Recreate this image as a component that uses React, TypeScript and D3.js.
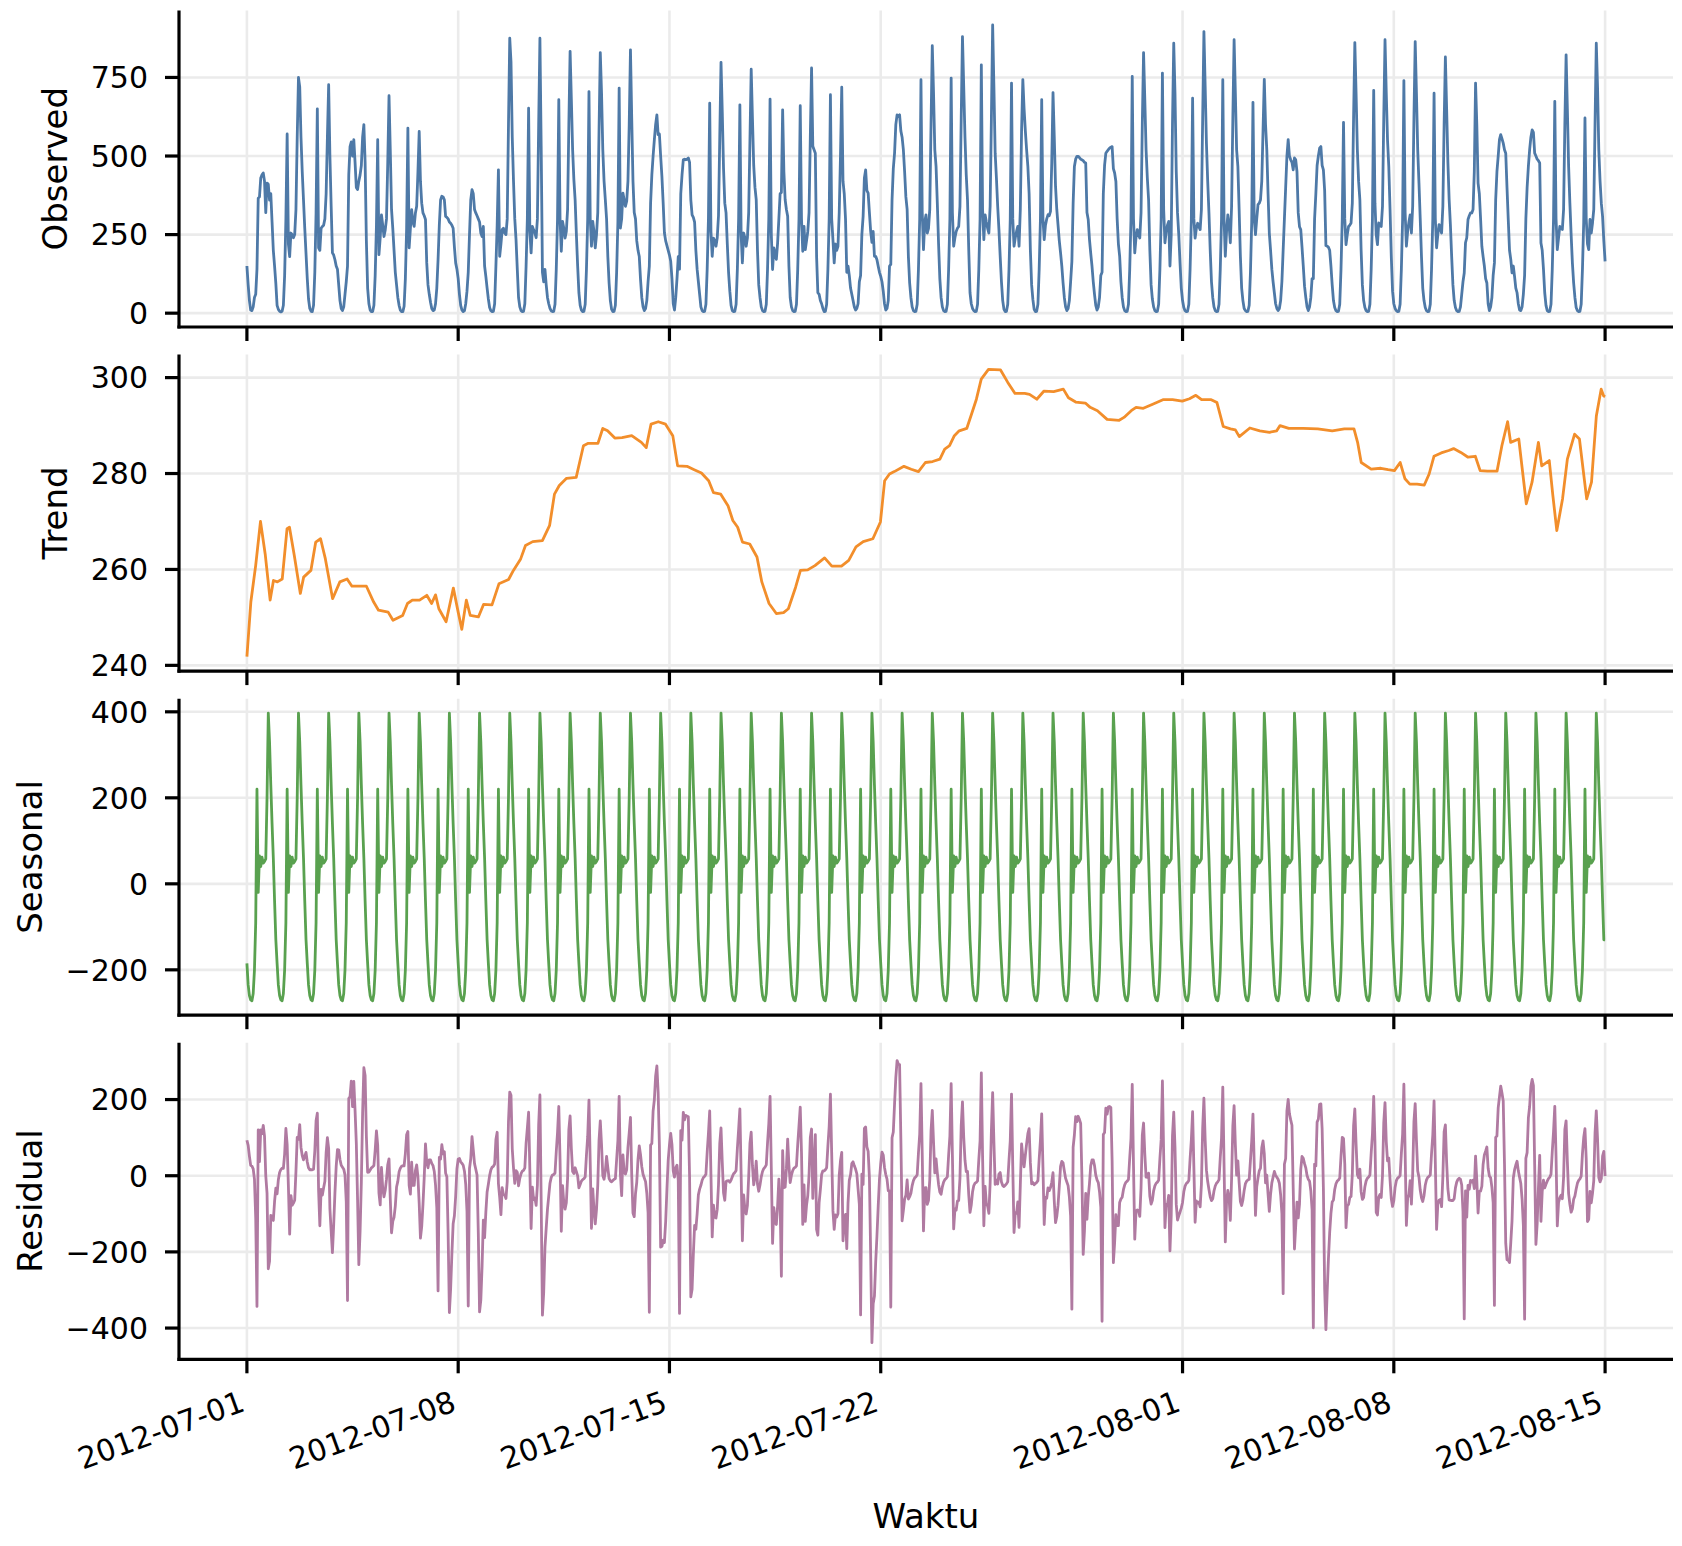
import React from 'react';
import * as d3 from 'd3';

// ---------------- data ----------------
const startUTC = Date.UTC(2012, 6, 1); // 2012-07-01 00:00, hourly samples
const tickLabels = ['2012-07-01', '2012-07-08', '2012-07-15', '2012-07-22', '2012-08-01', '2012-08-08', '2012-08-15'];

// observed hourly counts, one row per day (hour 0..23)
const observedByDay: number[][] = [
  [150, 90, 40, 10, 8, 20, 50, 60, 140, 366, 370, 430, 440, 446, 420, 320, 414, 410, 360, 380, 290, 200, 150, 95], // 07-01
  [25, 12, 6, 4, 6, 25, 120, 300, 570, 220, 180, 255, 250, 240, 250, 330, 560, 750, 720, 560, 450, 360, 270, 190], // 07-02
  [110, 45, 15, 6, 5, 25, 130, 320, 650, 208, 200, 270, 276, 280, 300, 380, 560, 727, 500, 340, 192, 185, 170, 150],
  [140, 90, 40, 15, 8, 20, 60, 100, 150, 440, 530, 545, 500, 552, 480, 400, 393, 420, 440, 470, 560, 600, 480, 230], // 07-04
  [80, 30, 10, 5, 5, 25, 120, 280, 552, 186, 240, 313, 280, 244, 265, 300, 480, 692, 520, 330, 270, 200, 130, 90],
  [50, 25, 10, 5, 5, 22, 110, 270, 589, 208, 270, 329, 290, 276, 319, 340, 450, 578, 420, 350, 319, 310, 298, 160],
  [90, 60, 35, 15, 8, 10, 30, 80, 170, 280, 360, 372, 370, 361, 308, 305, 300, 290, 286, 280, 270, 210, 160, 140],
  [110, 60, 25, 10, 5, 8, 30, 70, 130, 250, 360, 393, 380, 330, 319, 310, 300, 290, 255, 244, 276, 150, 117, 80], // 07-08
  [45, 18, 8, 5, 6, 30, 150, 280, 456, 181, 220, 266, 270, 255, 250, 300, 600, 875, 800, 560, 420, 300, 234, 140],
  [50, 20, 8, 5, 6, 30, 150, 300, 652, 260, 192, 276, 265, 255, 240, 300, 600, 875, 530, 130, 100, 139, 90, 50],
  [30, 15, 7, 5, 6, 28, 140, 300, 679, 300, 197, 292, 270, 239, 260, 330, 600, 833, 680, 520, 425, 360, 250, 150],
  [65, 25, 10, 5, 6, 28, 140, 300, 705, 300, 213, 292, 260, 208, 250, 320, 580, 829, 700, 520, 420, 361, 300, 180],
  [96, 40, 12, 5, 6, 25, 130, 290, 716, 271, 300, 382, 360, 340, 356, 420, 600, 838, 620, 420, 320, 300, 230, 200],
  [180, 107, 50, 20, 8, 15, 40, 100, 150, 350, 440, 500, 552, 600, 631, 568, 570, 500, 435, 351, 255, 230, 215, 200],
  [185, 165, 110, 30, 10, 50, 110, 180, 140, 380, 440, 488, 490, 488, 490, 494, 480, 360, 313, 305, 290, 200, 140, 100], // 07-15
  [60, 20, 8, 5, 6, 28, 140, 300, 668, 260, 181, 239, 230, 213, 240, 310, 560, 798, 640, 460, 350, 319, 220, 130],
  [70, 25, 8, 5, 6, 28, 140, 300, 663, 250, 160, 255, 240, 213, 240, 320, 550, 776, 620, 470, 400, 361, 200, 90],
  [50, 20, 8, 5, 6, 28, 140, 300, 681, 250, 139, 208, 190, 171, 223, 300, 380, 384, 647, 450, 361, 330, 308, 150],
  [50, 20, 8, 5, 6, 28, 140, 300, 660, 300, 197, 276, 202, 230, 260, 320, 560, 780, 531, 520, 509, 180, 65, 60],
  [40, 30, 15, 5, 6, 28, 140, 300, 695, 300, 234, 160, 220, 200, 213, 320, 500, 719, 420, 380, 300, 130, 150, 120],
  [80, 60, 40, 20, 10, 15, 30, 100, 120, 250, 308, 430, 456, 390, 382, 320, 260, 225, 260, 181, 181, 170, 149, 130],
  [117, 100, 70, 30, 10, 15, 40, 150, 155, 360, 460, 509, 600, 631, 626, 631, 580, 560, 520, 450, 370, 330, 180, 96], // 07-22
  [50, 20, 8, 5, 6, 28, 140, 300, 743, 320, 202, 290, 313, 255, 270, 330, 600, 851, 700, 520, 467, 350, 220, 110],
  [50, 20, 8, 5, 6, 28, 140, 300, 748, 320, 213, 240, 260, 270, 276, 340, 620, 880, 720, 560, 440, 361, 200, 65],
  [30, 15, 8, 5, 6, 28, 140, 300, 790, 330, 234, 313, 290, 270, 255, 340, 620, 917, 720, 509, 430, 340, 266, 180],
  [100, 40, 12, 5, 6, 28, 140, 300, 732, 300, 213, 240, 260, 276, 213, 330, 580, 743, 650, 580, 520, 467, 380, 200],
  [90, 43, 12, 5, 6, 28, 140, 300, 679, 300, 234, 280, 300, 313, 310, 324, 480, 702, 560, 404, 330, 280, 230, 192],
  [150, 96, 50, 20, 8, 15, 40, 100, 165, 350, 467, 490, 499, 499, 495, 490, 488, 485, 480, 478, 320, 298, 234, 190],
  [150, 100, 60, 25, 10, 20, 50, 120, 130, 380, 470, 509, 515, 520, 525, 528, 530, 460, 446, 419, 300, 220, 181, 100],
  [50, 20, 8, 5, 6, 28, 140, 300, 753, 300, 192, 240, 266, 250, 239, 320, 600, 829, 680, 520, 430, 361, 200, 90],
  [45, 20, 8, 5, 6, 28, 140, 300, 764, 330, 224, 260, 280, 292, 150, 250, 600, 859, 700, 450, 319, 250, 160, 80],
  [40, 18, 8, 5, 6, 28, 140, 300, 684, 300, 239, 270, 286, 275, 266, 330, 620, 896, 720, 540, 420, 319, 200, 100], // 08-01
  [50, 20, 8, 5, 6, 28, 140, 300, 743, 300, 181, 260, 313, 280, 224, 340, 620, 870, 700, 520, 467, 330, 180, 80],
  [40, 15, 8, 5, 6, 25, 130, 290, 671, 300, 250, 300, 345, 350, 361, 420, 580, 744, 600, 520, 380, 255, 200, 140],
  [100, 65, 30, 15, 8, 15, 40, 100, 200, 300, 400, 500, 552, 500, 488, 480, 456, 494, 488, 450, 319, 275, 266, 210],
  [150, 86, 50, 20, 8, 20, 50, 110, 110, 300, 380, 470, 500, 525, 530, 470, 456, 390, 215, 213, 210, 200, 150, 90],
  [40, 18, 8, 5, 6, 28, 140, 300, 607, 300, 218, 250, 276, 280, 287, 350, 620, 861, 700, 520, 420, 361, 200, 90],
  [40, 18, 8, 5, 6, 28, 140, 300, 709, 350, 250, 218, 287, 280, 276, 340, 620, 870, 700, 550, 467, 330, 180, 70],
  [30, 15, 8, 5, 6, 28, 140, 300, 740, 320, 213, 260, 290, 313, 255, 340, 620, 864, 700, 520, 414, 300, 180, 80], // 08-08
  [40, 18, 8, 5, 6, 28, 140, 300, 700, 300, 208, 250, 282, 270, 255, 340, 600, 815, 650, 480, 361, 280, 180, 90],
  [40, 18, 8, 5, 6, 20, 60, 100, 128, 224, 240, 298, 310, 319, 319, 330, 450, 732, 600, 414, 380, 300, 213, 180],
  [150, 110, 96, 30, 8, 20, 50, 120, 160, 361, 450, 500, 552, 568, 555, 541, 520, 509, 400, 298, 200, 171, 128, 150],
  [117, 80, 65, 30, 10, 8, 20, 60, 120, 300, 400, 467, 520, 560, 583, 575, 509, 500, 490, 485, 478, 223, 200, 140],
  [65, 25, 8, 5, 6, 28, 140, 300, 674, 300, 202, 240, 276, 270, 266, 330, 600, 822, 650, 467, 350, 250, 160, 96],
  [50, 18, 8, 5, 6, 28, 140, 290, 621, 300, 220, 202, 298, 255, 287, 330, 600, 859, 720, 520, 420, 350, 308, 230], // 08-14
];
const observedLast = 165; // 2012-08-15 00:00

// seasonal component: one daily profile (hour 0..23), repeated every day
const seasonalProfile = [-185, -235, -260, -270, -272, -255, -200, -90, 220, -20, 65, 40, 62, 48, 52, 58, 200, 397, 330, 230, 140, 60, -40, -130];
const seasonalLast = -130; // value drawn at 2012-08-15 00:00

// trend component: sampled points (day offset from 2012-07-01, value)
const trendDays = [
  0, 0.13, 0.29, 0.45, 0.61, 0.77, 0.88, 1.01, 1.17, 1.33, 1.41, 1.57, 1.77, 1.88, 2.12, 2.28, 2.44, 2.6, 2.84, 3.08,
  3.32, 3.48, 3.96, 4.2, 4.36, 4.68, 4.84, 5.16, 5.32, 5.48, 5.72, 5.96, 6.12, 6.25, 6.36, 6.6, 6.84, 7.0, 7.12, 7.27,
  7.4, 7.67, 7.84, 8.12, 8.35, 8.67, 8.83, 9.07, 9.23, 9.47, 9.79, 10.03, 10.19, 10.35, 10.59, 10.91, 11.15, 11.31, 11.63, 11.79,
  11.95, 12.19, 12.43, 12.75, 13.07, 13.23, 13.39, 13.63, 13.87, 14.11, 14.27, 14.58, 14.82, 15.06, 15.3, 15.46, 15.7, 15.94, 16.1, 16.26,
  16.42, 16.66, 16.9, 17.06, 17.3, 17.54, 17.78, 17.94, 18.18, 18.34, 18.58, 18.82, 19.14, 19.38, 19.7, 19.94, 20.18, 20.42, 20.74, 20.99,
  21.13, 21.29, 21.45, 21.77, 22.01, 22.25, 22.48, 22.72, 22.96, 23.12, 23.28, 23.44, 23.6, 23.85, 24.01, 24.17, 24.33, 24.57, 24.97, 25.21,
  25.45, 25.77, 25.93, 26.17, 26.41, 26.73, 27.05, 27.22, 27.46, 27.78, 27.94, 28.18, 28.5, 28.9, 29.06, 29.3, 29.46, 29.7, 30.03, 30.35,
  30.67, 30.99, 31.23, 31.44, 31.63, 31.95, 32.14, 32.35, 32.59, 32.75, 32.88, 33.23, 33.56, 33.88, 34.12, 34.23, 34.52, 35.0, 35.48, 35.96,
  36.36, 36.68, 36.8, 36.92, 37.25, 37.57, 37.81, 38.02, 38.21, 38.37, 38.53, 38.77, 39.01, 39.17, 39.33, 39.57, 39.82, 39.98, 40.22, 40.46,
  40.7, 40.86, 41.1, 41.42, 41.58, 41.77, 41.87, 42.14, 42.39, 42.58, 42.79, 42.9, 43.15, 43.27, 43.4, 43.59, 43.75, 43.99, 44.15, 44.39,
  44.55, 44.71, 44.87, 44.95, 45.0,
];
const trendValues = [
  241.8, 253.2, 260.8, 270, 263, 253.6, 257.7, 257.4, 258, 268.5, 268.8, 262.9, 255, 258.4, 259.8, 265.7, 266.4, 262.2, 253.9, 257.4,
  258, 256.5, 256.5, 253.2, 251.5, 251.1, 249.4, 250.4, 252.9, 253.6, 253.6, 254.6, 252.9, 254.7, 251.8, 249.1, 256.1, 251.1, 247.5, 253.6,
  250.4, 250.1, 252.7, 252.6, 257, 257.9, 259.8, 262.2, 265, 265.8, 266, 269.2, 275.7, 277.5, 279, 279.2, 285.8, 286.3, 286.3, 289.4,
  288.9, 287.4, 287.5, 287.9, 286.5, 285.4, 290.3, 290.8, 290.3, 287.9, 281.6, 281.5, 280.8, 280.1, 278.5, 276, 275.7, 273.3, 270.2, 268.8,
  265.7, 265.3, 262.6, 257.4, 252.9, 250.8, 251, 251.8, 256.3, 259.8, 259.9, 260.8, 262.4, 260.7, 260.7, 261.9, 264.7, 265.8, 266.4, 269.9,
  278.5, 279.9, 280.4, 281.5, 280.9, 280.4, 282.3, 282.5, 283, 285.1, 285.8, 287.9, 288.9, 289.4, 292.4, 295.5, 299.7, 301.7, 301.6, 299,
  296.7, 296.7, 296.5, 295.5, 297.2, 297.1, 297.6, 295.8, 294.9, 294.7, 293.8, 293.1, 291.3, 291.1, 291.7, 293.1, 293.8, 293.6, 294.5, 295.4,
  295.4, 295.1, 295.6, 296.3, 295.4, 295.4, 294.8, 289.8, 289.3, 289.1, 287.7, 289.5, 288.9, 288.6, 288.9, 290, 289.4, 289.4, 289.3, 288.9,
  289.3, 289.3, 286.5, 282.3, 280.9, 281.1, 280.8, 280.6, 282.3, 278.9, 277.8, 277.8, 277.6, 279.9, 283.6, 284.3, 284.8, 285.2, 284.4, 283.4,
  283.6, 280.6, 280.5, 280.5, 285.8, 290.8, 286.5, 287.2, 273.7, 278.2, 286.5, 281.6, 282.7, 275.4, 268.1, 274.7, 283, 288.2, 287.2, 274.7,
  278.2, 292, 297.6, 296.2, 296,
];

const observedTicks = [0, 250, 500, 750];
const trendTicks = [240, 260, 280, 300];
const seasonalTicks = [-200, 0, 200, 400];
const residualTicks = [-400, -200, 0, 200];

const panelLabels = ['Observed', 'Trend', 'Seasonal', 'Residual'];
const xAxisLabel = 'Waktu';

// ---------------- layout / style ----------------
const W = 1682;
const H = 1546;
const LEFT = 179;
const RIGHT = 1673;
const PANEL_TOPS = [10.5, 354.6, 698.7, 1042.8];
const PANEL_H = 316.5;
const Y_DOMAINS: [number, number][] = [[-44, 963], [238.8, 304.8], [-305.5, 430.5], [-482, 349]];
const COLORS = ['#4e79a7', '#f28e2b', '#59a14f', '#b07aa1'];
const FONT = "'DejaVu Sans', sans-serif";
const TICK_FS = 30;
const LABEL_FS = 34;
const TICK_LEN = 14;
const HOUR = 3600000;

const fmt = (n: number) => (n < 0 ? '\u2212' + Math.abs(n) : String(n));
const textWidth = (s: string, fs: number) =>
  s.split('').reduce((a, c) => a + (c === '\u2212' ? 0.838 : 0.636), 0) * fs;

type Pt = { t: Date; v: number };

export default function App() {
  const nHours = observedByDay.length * 24;
  const observed: number[] = observedByDay.flat().concat([observedLast]);
  const seasonal: number[] = observedByDay
    .flat()
    .map((_, i) => seasonalProfile[i % 24])
    .concat([seasonalLast]);
  const tEnd = startUTC + nHours * HOUR;
  const pad = nHours * 0.05 * HOUR;
  const x = d3.scaleUtc().domain([new Date(startUTC - pad), new Date(tEnd + pad)]).range([LEFT, RIGHT]);

  const timeAt = (i: number) => new Date(startUTC + i * HOUR);
  const obsPts: Pt[] = observed.map((v, i) => ({ t: timeAt(i), v }));
  const seasPts: Pt[] = seasonal.map((v, i) => ({ t: timeAt(i), v }));
  const trendPts: Pt[] = trendDays.map((d, i) => ({ t: new Date(startUTC + d * 24 * HOUR), v: trendValues[i] }));

  // residual = observed - trend - seasonal (the decomposition identity)
  const trendAt = (day: number) => {
    const j = Math.max(1, d3.bisectLeft(trendDays, day));
    const k = Math.min(j, trendDays.length - 1);
    const d0 = trendDays[j - 1], d1 = trendDays[k];
    const v0 = trendValues[j - 1], v1 = trendValues[k];
    if (d1 === d0) return v0;
    return v0 + ((v1 - v0) * (day - d0)) / (d1 - d0);
  };
  const residPts: Pt[] = observed.map((v, i) => ({
    t: timeAt(i),
    v: v - trendAt(i / 24) - seasonal[i],
  }));

  const series = [obsPts, trendPts, seasPts, residPts];
  const ticksArr = [observedTicks, trendTicks, seasonalTicks, residualTicks];
  const tickDates = tickLabels.map((s) => new Date(s + 'T00:00:00Z'));

  return (
    <svg
      width={W}
      height={H}
      viewBox={`0 0 ${W} ${H}`}
      style={{ position: 'absolute', left: 0, top: 0, background: '#fff' }}
      fontFamily={FONT}
    >
      <rect x={0} y={0} width={W} height={H} fill="#fff" />
      <defs>
        {PANEL_TOPS.map((top, p) => (
          <clipPath id={`clip${p}`} key={p}>
            <rect x={LEFT} y={top} width={RIGHT - LEFT} height={PANEL_H} />
          </clipPath>
        ))}
      </defs>
      {PANEL_TOPS.map((top, p) => {
        const bottom = top + PANEL_H;
        const y = d3.scaleLinear().domain(Y_DOMAINS[p]).range([bottom, top]);
        const line = d3
          .line<Pt>()
          .x((d) => x(d.t))
          .y((d) => y(d.v));
        const ticks = ticksArr[p];
        const maxW = d3.max(ticks, (t) => textWidth(fmt(t), TICK_FS)) || 0;
        const labelX = 148 - maxW - 24;
        return (
          <g key={p}>
            {ticks.map((t) => (
              <line key={'gy' + t} x1={LEFT} x2={RIGHT} y1={y(t)} y2={y(t)} stroke="#ebebeb" strokeWidth={2.6} />
            ))}
            {tickDates.map((d, i) => (
              <line key={'gx' + i} x1={x(d)} x2={x(d)} y1={top} y2={bottom} stroke="#ebebeb" strokeWidth={2.6} />
            ))}
            <path
              d={line(series[p]) || ''}
              fill="none"
              stroke={COLORS[p]}
              strokeWidth={2.8}
              strokeLinejoin="round"
              clipPath={`url(#clip${p})`}
            />
            <line x1={LEFT} x2={LEFT} y1={top} y2={bottom + 1.6} stroke="#000" strokeWidth={3.2} />
            <line x1={LEFT - 1.6} x2={RIGHT} y1={bottom} y2={bottom} stroke="#000" strokeWidth={3.2} />
            {ticks.map((t) => (
              <g key={'ty' + t}>
                <line x1={LEFT - TICK_LEN} x2={LEFT} y1={y(t)} y2={y(t)} stroke="#000" strokeWidth={3.2} />
                <text x={148} y={y(t)} dy="0.36em" textAnchor="end" fontSize={TICK_FS} fill="#000">
                  {fmt(t)}
                </text>
              </g>
            ))}
            {tickDates.map((d, i) => (
              <line key={'tx' + i} x1={x(d)} x2={x(d)} y1={bottom} y2={bottom + TICK_LEN} stroke="#000" strokeWidth={3.2} />
            ))}
            <text
              transform={`translate(${labelX},${(top + bottom) / 2}) rotate(-90)`}
              textAnchor="middle"
              fontSize={LABEL_FS}
              fill="#000"
            >
              {panelLabels[p]}
            </text>
            {p === PANEL_TOPS.length - 1 &&
              tickDates.map((d, i) => (
                <text
                  key={'lx' + i}
                  transform={`translate(${x(d) - 8},${bottom + TICK_LEN + 16}) rotate(-20)`}
                  textAnchor="end"
                  dy="0.74em"
                  fontSize={TICK_FS}
                  fill="#000"
                >
                  {tickLabels[i]}
                </text>
              ))}
          </g>
        );
      })}
      <text x={(LEFT + RIGHT) / 2} y={1528} textAnchor="middle" fontSize={LABEL_FS} fill="#000">
        {xAxisLabel}
      </text>
    </svg>
  );
}
